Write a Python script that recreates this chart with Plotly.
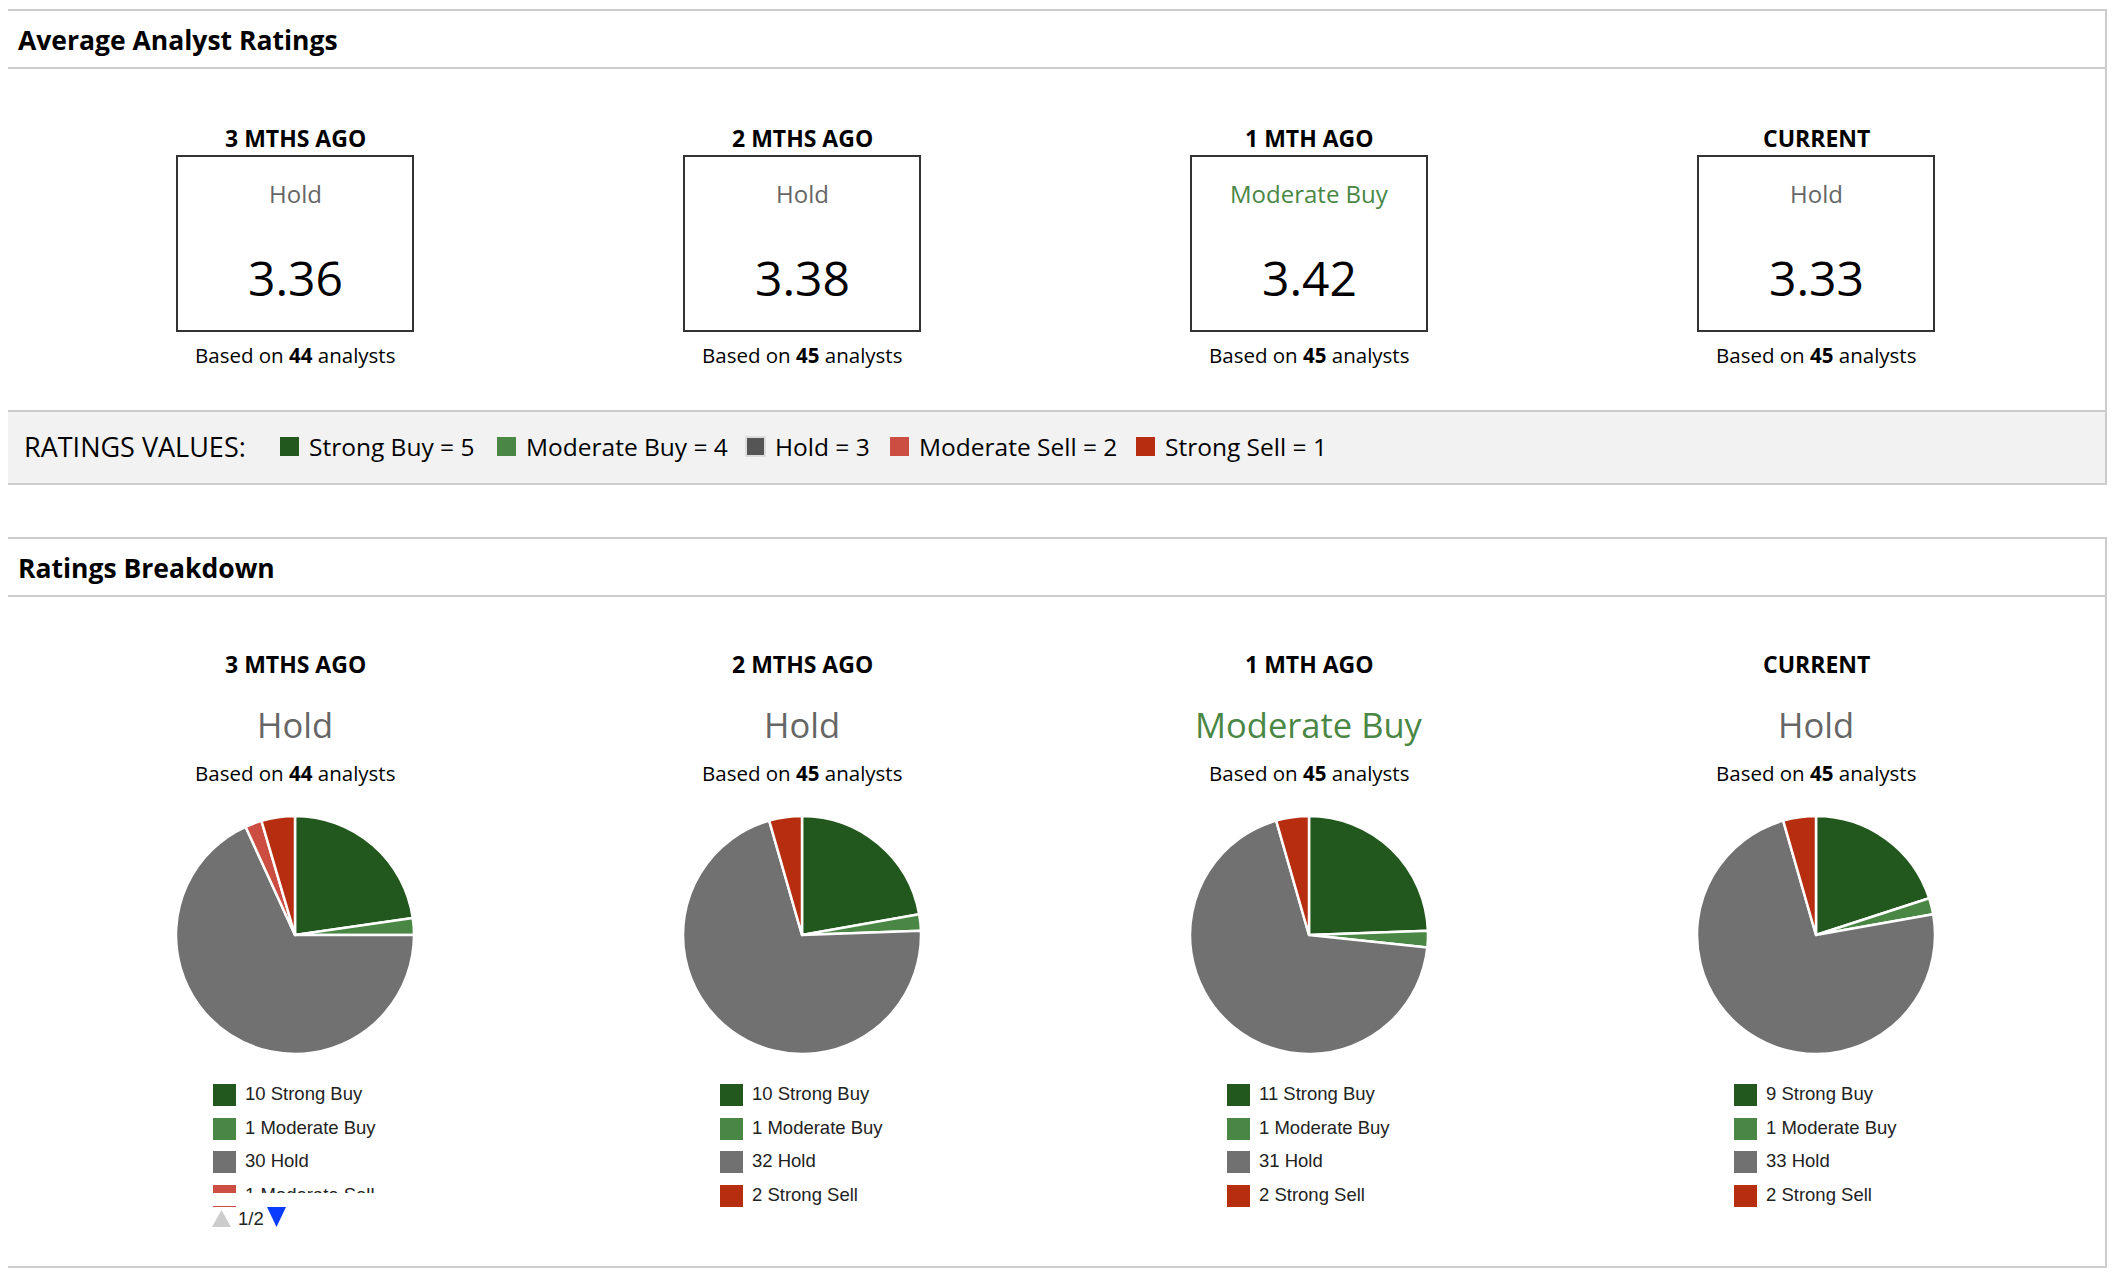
import plotly.graph_objects as go

W, H = 2116, 1286          # browser window
PAD = 8                    # default page margin around the plot div
FW, FH = W - 2 * PAD, H - 2 * PAD

# ---- data ----
periods = ["3 MTHS AGO", "2 MTHS AGO", "1 MTH AGO", "CURRENT"]
consensus = ["Hold", "Hold", "Moderate Buy", "Hold"]
avg_score = ["3.36", "3.38", "3.42", "3.33"]
n_analysts = [44, 45, 45, 45]

rating_names = ["Strong Buy", "Moderate Buy", "Hold", "Moderate Sell", "Strong Sell"]
rating_values = [5, 4, 3, 2, 1]
strong_buy = [10, 10, 11, 9]
moderate_buy = [1, 1, 1, 1]
hold = [30, 32, 31, 33]
moderate_sell = [1, 0, 0, 0]
strong_sell = [2, 2, 2, 2]

# ---- styling ----
rating_colors = ["#22571e", "#4a8745", "#717171", "#cc4e42", "#b62d10"]
strip_colors = ["#22571e", "#4a8745", "#555555", "#cc4e42", "#b62d10"]
label_colors = {"Hold": "#666666", "Moderate Buy": "#4a8745"}
FONT = "Open Sans"
LEG_FONT = "Liberation Sans"
BORDER = "#cccccc"

col_x = [295 + 507 * i for i in range(4)]
PIE_Y, R = 935, 119
ROW_Y = [1095, 1129, 1162, 1196]
strip_x = [280, 497, 746, 890, 1136]  # square left edges in the ratings strip

fig = go.Figure()
shapes = []
ann = []


def rect(x0, y0, x1, y1, line="rgba(0,0,0,0)", fill="rgba(0,0,0,0)", w=2, layer="below"):
    shapes.append(dict(type="rect", xref="x", yref="y", x0=x0, y0=y0, x1=x1, y1=y1,
                       line=dict(color=line, width=w), fillcolor=fill, layer=layer))


def hline(x0, x1, y):
    shapes.append(dict(type="line", xref="x", yref="y", x0=x0, x1=x1, y0=y, y1=y,
                       line=dict(color=BORDER, width=2)))


def text(x, y, s, size, color="#000000", bold=False, anchor="center", family=FONT):
    ann.append(dict(x=x, y=y, xref="x", yref="y", text=f"<b>{s}</b>" if bold else s,
                    showarrow=False, xanchor=anchor, yanchor="middle",
                    font=dict(family=family, size=size, color=color)))


# ---- panel 1: average analyst ratings ----
rect(8, 411, 2105, 483, fill="#f2f2f2", w=0)
rect(7, 10, 2106, 484, line=BORDER)
hline(7, 2106, 68)
hline(7, 2106, 411)
text(16, 40, "Average Analyst Ratings", 26.5, bold=True, anchor="left")

for i, cx in enumerate(col_x):
    text(cx, 138, periods[i], 23, bold=True)
    rect(cx - 118, 156, cx + 118, 331, line="#333333", w=2)
    text(cx, 193, consensus[i], 24, color=label_colors[consensus[i]])
    text(cx, 277, avg_score[i], 48)
    text(cx, 355, f"Based on <b>{n_analysts[i]}</b> analysts", 20.5)

text(22, 446, "RATINGS VALUES:", 27, anchor="left")
for k, name in enumerate(rating_names):
    sx = strip_x[k]
    if name == "Hold":
        rect(sx, 437, sx + 19, 456, line="#dddddd", fill=strip_colors[k], w=2)
    else:
        rect(sx, 437, sx + 19, 456, fill=strip_colors[k], w=0)
    text(sx + 27, 446, f"{name} = {rating_values[k]}", 24.5, anchor="left")

# ---- panel 2: ratings breakdown ----
rect(7, 538, 2106, 1267, line=BORDER)
hline(7, 2106, 596)
text(16, 568, "Ratings Breakdown", 26.5, bold=True, anchor="left")

leg_x, leg_y, leg_s = [], [], []
for i, cx in enumerate(col_x):
    text(cx, 664, periods[i], 23, bold=True)
    text(cx, 724, consensus[i], 34.5, color=label_colors[consensus[i]])
    text(cx, 773, f"Based on <b>{n_analysts[i]}</b> analysts", 20.5)

    counts = [strong_buy[i], moderate_buy[i], hold[i], moderate_sell[i], strong_sell[i]]
    keep = [k for k in range(5) if counts[k] > 0]
    px = cx - PAD
    py = PIE_Y - PAD
    fig.add_trace(go.Pie(
        values=[counts[k] for k in keep], labels=[rating_names[k] for k in keep],
        sort=False, direction="clockwise", rotation=0,
        marker=dict(colors=[rating_colors[k] for k in keep], line=dict(color="white", width=2.5)),
        textinfo="none", hoverinfo="label+value",
        domain=dict(x=[(px - R) / FW, (px + R) / FW], y=[1 - (py + R) / FH, 1 - (py - R) / FH]),
    ))

    # legend under each pie (4 rows per page)
    for row, k in enumerate(keep[:4]):
        y = ROW_Y[row]
        rect(cx - 82, y - 11, cx - 59, y + 11, fill=rating_colors[k], w=0)
        leg_x.append(cx - 50)
        leg_y.append(y)
        leg_s.append(f"{counts[k]} {rating_names[k]}")
    if len(keep) > 4:
        # clipped 4th row + pager
        rect(cx - 90, 1193, cx + 130, 1206, fill="white", w=0, layer="above")
        shapes.append(dict(type="path", xref="x", yref="y", layer="above",
                           path=f"M {cx-83},1227 L {cx-73.5},1210 L {cx-64},1227 Z",
                           fillcolor="#cccccc", line=dict(width=0)))
        shapes.append(dict(type="path", xref="x", yref="y", layer="above",
                           path=f"M {cx-28},1207 L {cx-9},1207 L {cx-18.5},1227 Z",
                           fillcolor="#0a3cff", line=dict(width=0)))
        text(cx - 59, 1218, "1/2", 18.5, color="#222222", anchor="left", family=LEG_FONT)

fig.add_trace(go.Scatter(x=leg_x, y=leg_y, text=leg_s, mode="text", textposition="middle right",
                         textfont=dict(family=LEG_FONT, size=18.5, color="#222222"),
                         hoverinfo="skip", cliponaxis=False))

fig.update_layout(
    width=FW, height=FH, margin=dict(l=0, r=0, t=0, b=0),
    paper_bgcolor="white", plot_bgcolor="white", showlegend=False,
    xaxis=dict(range=[PAD, PAD + FW], visible=False, fixedrange=True),
    yaxis=dict(range=[PAD + FH, PAD], visible=False, fixedrange=True),
    shapes=shapes, annotations=ann,
)

fig.write_html("out.html")
